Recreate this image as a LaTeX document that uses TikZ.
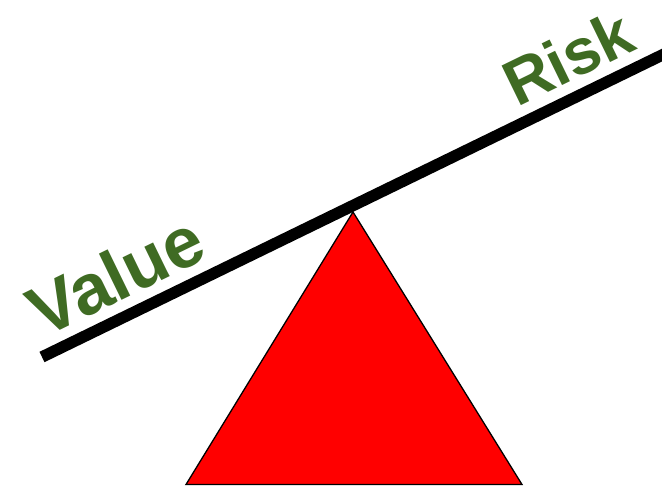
\documentclass[tikz,border=0pt]{standalone}
\usepackage{fontspec}
\setmainfont{Liberation Sans}
\definecolor{labelgreen}{RGB}{63,107,35}
\begin{document}
\begin{tikzpicture}[x=1pt,y=-1pt,
  label/.style={anchor=base west,rotate=26,inner sep=0pt,text=labelgreen},
  beam/.style={line width=11.5pt,black},
  fulcrum/.style={fill=red,draw=black,line width=1.3pt,line join=miter}]
\useasboundingbox (0,0) rectangle (662,486);
\clip (0,0) rectangle (662,486);
\coordinate (apex) at (353,212);
\coordinate (bl) at (186,484.5);
\coordinate (br) at (522,484.5);
\draw[fulcrum] (apex) -- (bl) -- (br) -- cycle;
\coordinate (beamL) at (42,357);
\coordinate (beamR) at (700,36.6);
\draw[beam] (beamL) -- (beamR);
\node[label,font=\bfseries\fontsize{71}{71}\selectfont] (value) at (43,339) {Value};
\node[label,font=\bfseries\fontsize{64}{64}\selectfont] (risk) at (517,108) {Risk};
\end{tikzpicture}
\end{document}
